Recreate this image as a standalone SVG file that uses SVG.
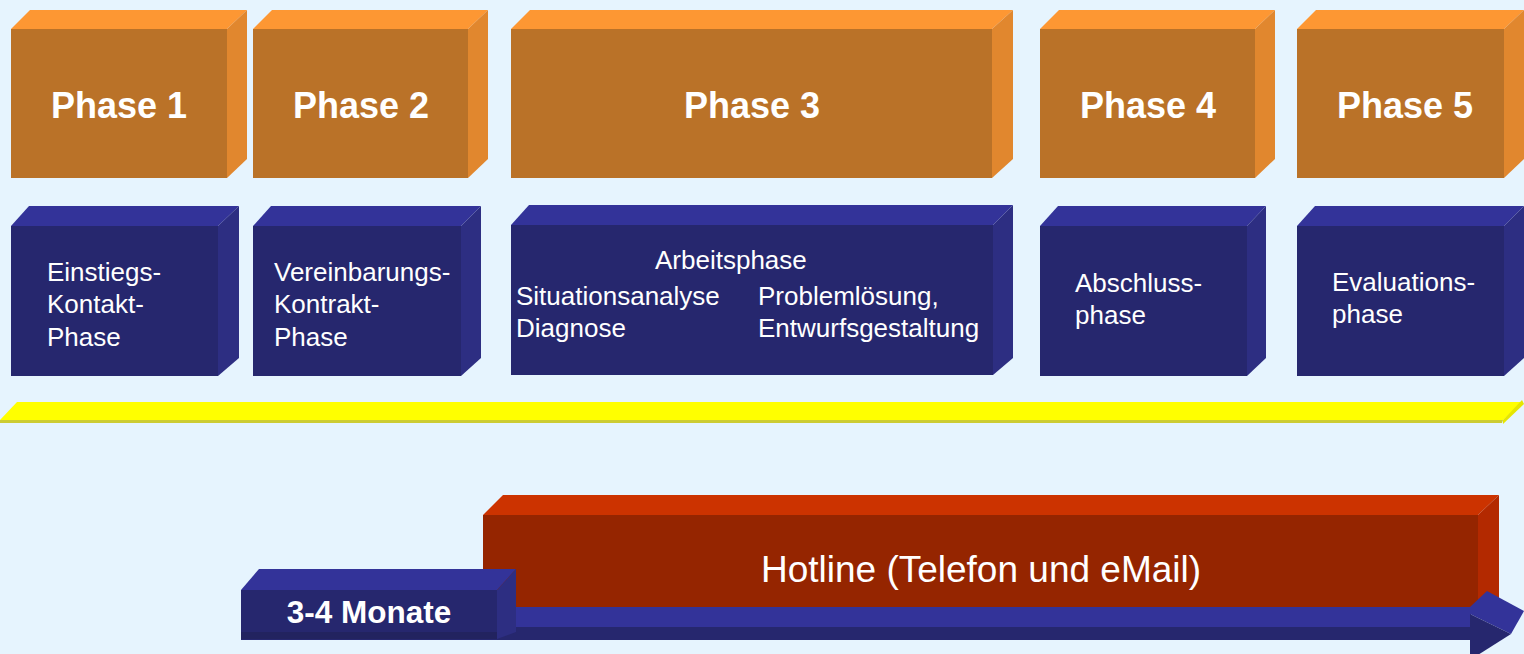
<svg xmlns="http://www.w3.org/2000/svg" width="1524" height="654" viewBox="0 0 1524 654">
<style>
.of{fill:#BA7228}.ot{fill:#FD9733}.or{fill:#E1872E}
.bf{fill:#26276E}.bt{fill:#333399}.br{fill:#2D2E82}
.rf{fill:#952500}.rt{fill:#CC3300}.rr{fill:#B32900}
.ph{font-family:"Liberation Sans",Arial,sans-serif;font-weight:bold;font-size:36px;fill:#FFFFFF;text-anchor:middle}
.lb{font-family:"Liberation Sans",Arial,sans-serif;font-size:26px;fill:#FFFFFF}
</style>
<rect width="1524" height="654" fill="#E6F4FE"/>

<g id="phase1">
<polygon class="of" points="11,29 227,29 227,178 11,178"/>
<polygon class="ot" points="11,29 30,10 247,10 227,29"/>
<polygon class="or" points="227,29 247,10 247,159 227,178"/>
<text class="ph" x="119" y="118">Phase 1</text>
</g>
<g id="phase2">
<polygon class="of" points="253,29 468,29 468,178 253,178"/>
<polygon class="ot" points="253,29 272,10 488,10 468,29"/>
<polygon class="or" points="468,29 488,10 488,159 468,178"/>
<text class="ph" x="361" y="118">Phase 2</text>
</g>
<g id="phase3">
<polygon class="of" points="511,29 992,29 992,178 511,178"/>
<polygon class="ot" points="511,29 530,10 1013,10 992,29"/>
<polygon class="or" points="992,29 1013,10 1013,159 992,178"/>
<text class="ph" x="752" y="118">Phase 3</text>
</g>
<g id="phase4">
<polygon class="of" points="1040,29 1255,29 1255,178 1040,178"/>
<polygon class="ot" points="1040,29 1059,10 1275,10 1255,29"/>
<polygon class="or" points="1255,29 1275,10 1275,159 1255,178"/>
<text class="ph" x="1148" y="118">Phase 4</text>
</g>
<g id="phase5">
<polygon class="of" points="1297,29 1504,29 1504,178 1297,178"/>
<polygon class="ot" points="1297,29 1316,10 1524,10 1504,29"/>
<polygon class="or" points="1504,29 1524,10 1524,159 1504,178"/>
<text class="ph" x="1405" y="118">Phase 5</text>
</g>

<g id="einstieg">
<polygon class="bf" points="11,226 218,226 218,376 11,376"/>
<polygon class="bt" points="11,226 29,206 239,206 218,226"/>
<polygon class="br" points="218,226 239,206 239,358 218,376"/>
<text class="lb" x="47" y="281">Einstiegs-</text>
<text class="lb" x="47" y="313">Kontakt-</text>
<text class="lb" x="47" y="346">Phase</text>
</g>
<g id="vereinbarung">
<polygon class="bf" points="253,226 461,226 461,376 253,376"/>
<polygon class="bt" points="253,226 271,206 481,206 461,226"/>
<polygon class="br" points="461,226 481,206 481,358 461,376"/>
<text class="lb" x="274" y="281">Vereinbarungs-</text>
<text class="lb" x="274" y="313">Kontrakt-</text>
<text class="lb" x="274" y="346">Phase</text>
</g>
<g id="arbeit">
<polygon class="bf" points="511,225 993,225 993,375 511,375"/>
<polygon class="bt" points="511,225 529,205 1013,205 993,225"/>
<polygon class="br" points="993,225 1013,205 1013,358 993,375"/>
<text class="lb" x="655" y="269">Arbeitsphase</text>
<text class="lb" x="516" y="305">Situationsanalyse</text>
<text class="lb" x="516" y="337">Diagnose</text>
<text class="lb" x="758" y="305">Problemlösung,</text>
<text class="lb" x="758" y="337">Entwurfsgestaltung</text>
</g>
<g id="abschluss">
<polygon class="bf" points="1040,226 1247,226 1247,376 1040,376"/>
<polygon class="bt" points="1040,226 1058,206 1266,206 1247,226"/>
<polygon class="br" points="1247,226 1266,206 1266,358 1247,376"/>
<text class="lb" x="1075" y="292">Abschluss-</text>
<text class="lb" x="1075" y="324">phase</text>
</g>
<g id="evaluation">
<polygon class="bf" points="1297,226 1504,226 1504,376 1297,376"/>
<polygon class="bt" points="1297,226 1315,206 1524,206 1504,226"/>
<polygon class="br" points="1504,226 1524,206 1524,358 1504,376"/>
<text class="lb" x="1332" y="291">Evaluations-</text>
<text class="lb" x="1332" y="323">phase</text>
</g>

<g id="zeitleiste">
<polygon fill="#FFFF00" points="0,420 17,402 1522,402 1503,420"/>
<polygon fill="#CCCC33" points="0,420 1503,420 1502,423 0,423"/>
<polygon fill="#E6E600" points="1503,420 1522,400 1524,404 1503,424"/>
</g>

<g id="hotline">
<polygon class="rf" points="483,515 1478,515 1478,607 483,607"/>
<polygon class="rt" points="483,515 503,495 1499,495 1478,515"/>
<polygon class="rr" points="1478,515 1499,495 1499,607 1478,607"/>
<text x="981" y="582" font-family="Liberation Sans, Arial, sans-serif" font-size="37" fill="#FFFFFF" text-anchor="middle">Hotline (Telefon und eMail)</text>
</g>

<g id="connectors">
<g id="pfeil">
<rect x="241" y="607" width="1230" height="21" fill="#333399"/>
<rect x="241" y="627" width="1230" height="13" fill="#26276E"/>
<polygon fill="#333399" points="1470,607 1487,591 1524,611 1511,634 1470,614"/>
<polygon fill="#26276E" points="1470,614 1511,634 1470,660"/>
</g>
</g>

<g id="monate">
<polygon class="bf" points="241,590 497,590 497,639 241,639"/>
<rect x="241" y="632" width="256" height="7" fill="#22235F"/>
<polygon class="bt" points="241,590 259,569 516,569 497,590"/>
<polygon class="br" points="497,590 516,569 516,632 497,639"/>
<text class="ph" x="369" y="623" style="font-size:31.5px">3-4 Monate</text>
</g>
</svg>
